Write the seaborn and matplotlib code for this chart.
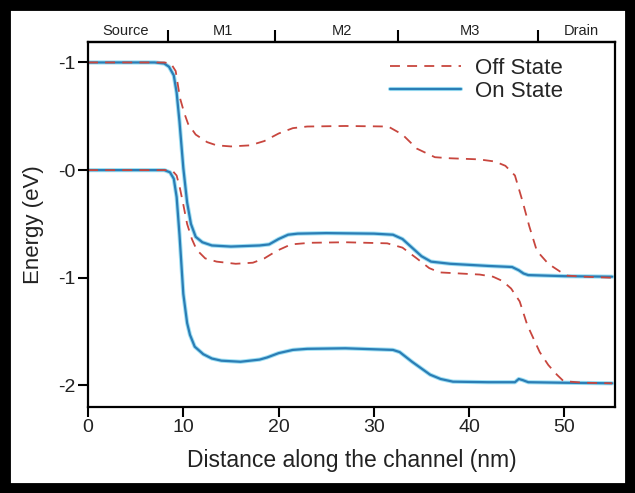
import matplotlib
matplotlib.use("Agg")
import matplotlib.pyplot as plt
import matplotlib.patheffects as pe
from matplotlib.patches import Rectangle
from matplotlib.lines import Line2D
import seaborn as sns
import numpy as np

sns.set_theme(style="white")
plt.rcParams['font.family'] = ['Liberation Sans', 'DejaVu Sans']

# ---- data ----
on_cb_x = [0, 7, 8, 8.5, 9, 9.3, 9.6, 10, 10.4, 10.8, 11.3, 12, 13, 15, 18, 19, 20, 21, 22, 25,
           30, 32, 33, 34, 35, 36, 38, 42, 44.5, 45.2, 45.7, 46.2, 50, 55]
on_cb_y = [1.0, 1.0, 0.99, 0.96, 0.88, 0.72, 0.45, 0.02, -0.3, -0.5, -0.62, -0.67, -0.70, -0.71,
           -0.70, -0.69, -0.64, -0.60, -0.59, -0.585, -0.59, -0.60, -0.64, -0.72, -0.80, -0.85,
           -0.87, -0.89, -0.90, -0.93, -0.96, -0.975, -0.985, -0.99]

on_vb_x = [0, 8, 8.6, 9, 9.3, 9.6, 10, 10.4, 10.7, 11.2, 12.1, 13, 14, 16, 18, 18.8, 20, 21.5, 23,
           27, 32, 32.7, 34, 35.9, 37, 38.3, 42, 44.8, 45.2, 45.6, 46.2, 50, 55]
on_vb_y = [0.0, 0.0, -0.02, -0.08, -0.25, -0.6, -1.15, -1.42, -1.53, -1.64, -1.71, -1.75, -1.77,
           -1.78, -1.76, -1.74, -1.70, -1.67, -1.66, -1.655, -1.67, -1.69, -1.78, -1.90, -1.94,
           -1.965, -1.97, -1.97, -1.94, -1.95, -1.97, -1.975, -1.98]

off_cb_x = [0, 8, 8.7, 9.2, 9.65, 10.1, 10.5, 11.3, 12.5, 13.5, 15, 17, 18.5, 20, 21.5, 23, 27,
            31.5, 33, 34.5, 36.4, 38, 41, 42.7, 43.8, 44.8, 45.6, 46.3, 47.1, 48.3, 49.5, 50.3,
            52, 55]
off_cb_y = [1.0, 1.0, 0.99, 0.92, 0.67, 0.53, 0.43, 0.33, 0.26, 0.23, 0.22, 0.23, 0.27, 0.34,
            0.39, 0.405, 0.41, 0.405, 0.33, 0.20, 0.12, 0.11, 0.10, 0.08, 0.04, -0.05, -0.29,
            -0.52, -0.75, -0.87, -0.94, -0.98, -0.99, -1.0]

off_vb_x = [0, 8.4, 8.9, 9.3, 9.65, 10, 10.4, 10.9, 11.4, 12.3, 13.5, 15.5, 17.3, 18.5, 19.8,
            21.3, 23.3, 27, 31.4, 33, 34.5, 35.8, 36.9, 39, 41.1, 42.5, 43.5, 44.4, 45.3, 46.1,
            47.4, 48.3, 49.2, 49.9, 52, 55]
off_vb_y = [0.0, 0.0, -0.01, -0.05, -0.17, -0.32, -0.5, -0.64, -0.74, -0.82, -0.85, -0.87,
            -0.86, -0.82, -0.75, -0.69, -0.675, -0.67, -0.68, -0.72, -0.82, -0.91, -0.95, -0.96,
            -0.97, -0.99, -1.03, -1.10, -1.22, -1.44, -1.69, -1.81, -1.90, -1.96, -1.975, -1.98]

region_names = ["Source", "M1", "M2", "M3", "Drain"]
region_bounds = [8.4, 19.6, 32.5, 47.2]
region_centers = [3.9, 14.2, 26.6, 40.1, 51.8]

y_ticks = [1, 0, -1, -2]
y_tick_labels = ["-1", "-0", "-1", "-2"]
x_ticks = [0, 10, 20, 30, 40, 50]

# ---- styling ----
blue = "#2b7db5"
halo = "#9ee0f4"
red = "#c8463e"

fig = plt.figure(figsize=(6.35, 4.93), dpi=100)
ax = fig.add_axes([0.1386, 0.1745, 0.8299, 0.7403])

halo_fx = [pe.Stroke(linewidth=3.0, foreground=halo), pe.Normal()]

for xs, ys in [(on_cb_x, on_cb_y), (on_vb_x, on_vb_y)]:
    sns.lineplot(x=xs, y=ys, ax=ax, color=blue, linewidth=1.6, sort=False,
                 estimator=None)
for line in ax.get_lines():
    line.set_path_effects(halo_fx)

for xs, ys in [(off_cb_x, off_cb_y), (off_vb_x, off_vb_y)]:
    sns.lineplot(x=xs, y=ys, ax=ax, color=red, linewidth=1.3, sort=False,
                 estimator=None)
for line in ax.get_lines()[2:]:
    line.set_dashes((5.5, 4))

ax.set_xlim(0, 55.3)
ax.set_ylim(-2.2, 1.19)
ax.set_xticks(x_ticks)
ax.set_yticks(y_ticks)
ax.set_yticklabels(y_tick_labels)
ax.tick_params(axis='both', which='major', direction='out', length=7, width=1.5,
               color='black', labelsize=14, labelcolor='#222222', pad=2,
               bottom=True, left=True)
for s in ax.spines.values():
    s.set_color('black')
    s.set_linewidth(1.6)

ax.set_xlabel("Distance along the channel (nm)", fontsize=16.5, color='#222222', labelpad=9)
ax.set_ylabel("Energy (eV)", fontsize=16, color='#222222', labelpad=10)

# top region axis
top = ax.secondary_xaxis('top')
top.set_xticks(region_bounds)
top.set_xticklabels([])
top.set_xticks(region_centers, minor=True)
top.set_xticklabels(region_names, minor=True)
top.tick_params(axis='x', which='major', direction='out', length=9, width=1.5, color='black')
top.tick_params(axis='x', which='minor', length=0, labelsize=10.5, pad=3, labelcolor='#222222')
top.spines['top'].set_linewidth(1.6)

handles = [Line2D([], [], color=red, lw=1.3, dashes=(5.5, 4)),
           Line2D([], [], color=blue, lw=1.6, path_effects=halo_fx)]
ax.legend(handles, ["Off State", "On State"], loc='upper right', frameon=False,
          fontsize=16, handlelength=3.2, handletextpad=0.6, labelspacing=0.1,
          bbox_to_anchor=(0.93, 1.0), borderaxespad=0.3)

fig.patches.append(Rectangle((0, 0), 1, 1, transform=fig.transFigure, fill=False,
                             edgecolor='black', linewidth=15))

fig.savefig("out.png", dpi=100)
